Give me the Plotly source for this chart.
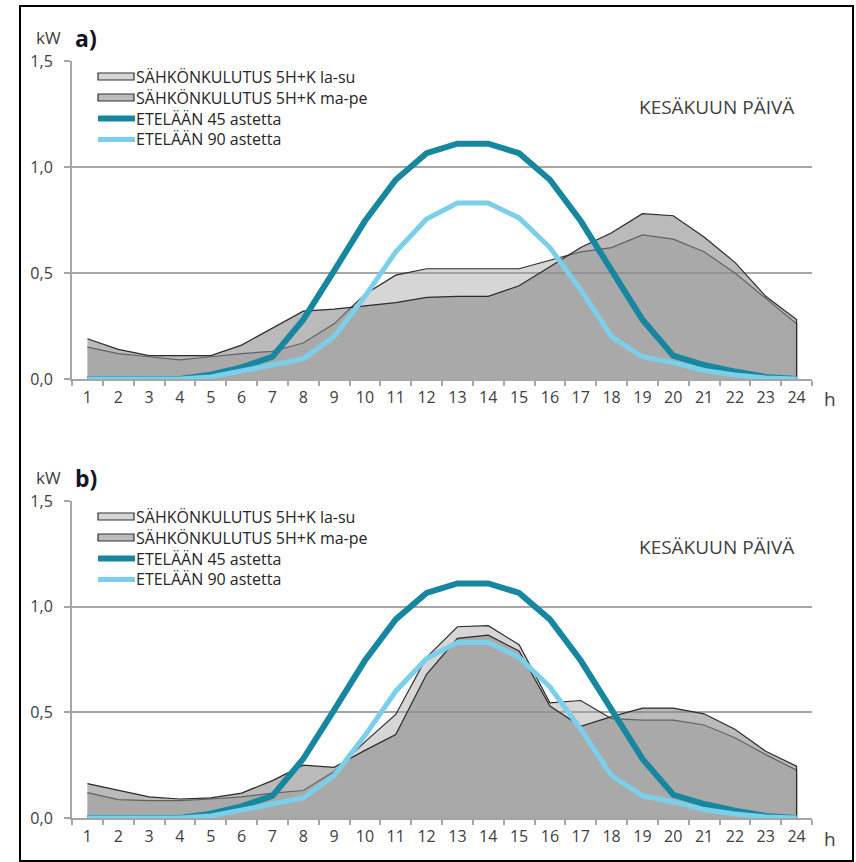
import plotly.graph_objects as go

hours = [str(h) for h in range(1, 25)]
y_ticks = [0.0, 0.5, 1.0, 1.5]

# Panel a) consumption (kW)
a_lasu = [0.15, 0.12, 0.105, 0.09, 0.105, 0.12, 0.13, 0.17, 0.26, 0.40, 0.49, 0.52,
          0.52, 0.52, 0.52, 0.56, 0.60, 0.62, 0.68, 0.66, 0.60, 0.50, 0.38, 0.26]
a_mape = [0.19, 0.14, 0.11, 0.11, 0.11, 0.16, 0.24, 0.32, 0.33, 0.345, 0.36, 0.385,
          0.39, 0.39, 0.44, 0.53, 0.62, 0.69, 0.78, 0.77, 0.67, 0.55, 0.39, 0.28]
# Panel b) consumption (kW)
b_lasu = [0.12, 0.087, 0.082, 0.082, 0.09, 0.10, 0.118, 0.13, 0.22, 0.36, 0.49, 0.76,
          0.905, 0.91, 0.82, 0.545, 0.556, 0.47, 0.463, 0.463, 0.44, 0.38, 0.30, 0.226]
b_mape = [0.163, 0.13, 0.10, 0.09, 0.095, 0.118, 0.177, 0.25, 0.24, 0.32, 0.395, 0.68,
          0.85, 0.865, 0.79, 0.53, 0.434, 0.48, 0.52, 0.52, 0.493, 0.42, 0.316, 0.245]
# Solar production (kW), same in both panels
solar45 = [0.0, 0.0, 0.0, 0.0, 0.02, 0.055, 0.105, 0.28, 0.51, 0.745, 0.94, 1.065,
           1.11, 1.11, 1.065, 0.94, 0.745, 0.51, 0.28, 0.11, 0.066, 0.035, 0.01, 0.0]
solar90 = [0.0, 0.0, 0.0, 0.0, 0.01, 0.035, 0.066, 0.095, 0.2, 0.39, 0.6, 0.755,
           0.83, 0.83, 0.76, 0.62, 0.42, 0.2, 0.105, 0.077, 0.04, 0.019, 0.005, 0.0]

names = ["SÄHKÖNKULUTUS 5H+K la-su", "SÄHKÖNKULUTUS 5H+K ma-pe",
         "ETELÄÄN 45 astetta", "ETELÄÄN 90 astetta"]

FONT = "Open Sans"
TXT = "#404040"
GRID = "#a6a6a6"
LASU_FILL = "rgba(160,160,160,0.43)"
MAPE_FILL = "rgba(137,137,137,0.585)"
C45 = "#17869f"
C90 = "#7ccfe8"

fig = go.Figure()

def add_panel(lasu, mape, xa, ya):
    xs = hours + [hours[-1]]
    fig.add_trace(go.Scatter(x=xs, y=lasu + [0], mode="lines", fill="tozeroy",
                             fillcolor=LASU_FILL, line=dict(color="#2b2b2b", width=1.2),
                             name=names[0], xaxis=xa, yaxis=ya, showlegend=False))
    fig.add_trace(go.Scatter(x=xs, y=mape + [0], mode="lines", fill="tozeroy",
                             fillcolor=MAPE_FILL, line=dict(color="#2b2b2b", width=1.2),
                             name=names[1], xaxis=xa, yaxis=ya, showlegend=False))
    fig.add_trace(go.Scatter(x=hours, y=solar45, mode="lines",
                             line=dict(color=C45, width=6), name=names[2],
                             xaxis=xa, yaxis=ya, showlegend=False))
    fig.add_trace(go.Scatter(x=hours, y=solar90, mode="lines",
                             line=dict(color=C90, width=5), name=names[3],
                             xaxis=xa, yaxis=ya, showlegend=False))

add_panel(a_lasu, a_mape, "x", "y")
add_panel(b_lasu, b_mape, "x2", "y2")

W, H = 856, 862
ML, MR, MT, MB = 72, 44, 61, 44
PW, PH = W - ML - MR, H - MT - MB

def px(xp):
    return (xp - ML) / PW

def py(yp):
    return 1 - (yp - MT) / PH

xcommon = dict(type="category", range=[-0.5, 23.5], tickson="boundaries",
               ticks="outside", ticklen=5, tickcolor=GRID, tickwidth=1.5,
               showline=True, linecolor=GRID, linewidth=2, showgrid=False,
               tickfont=dict(family=FONT, size=16, color=TXT), layer="below traces",
               ticklabelstandoff=3, fixedrange=True)
ycommon = dict(range=[0, 1.5], tickvals=y_ticks, tickformat=".1f",
               showgrid=True, gridcolor=GRID, gridwidth=2, zeroline=False,
               showline=True, linecolor=GRID, linewidth=2, ticks="outside",
               ticklen=6, tickcolor=GRID, tickwidth=1.5,
               tickfont=dict(family=FONT, size=16, color=TXT), ticklabelstandoff=8,
               layer="below traces", fixedrange=True)

annots = []
shapes = []
leg_fill = ["#d6d6d6", "#bbbbbb"]
rows = [76.5, 97.5, 118.5, 139.5]
for off, label in [(0, "a)"), (440, "b)")]:
    annots.append(dict(text="kW", x=px(48), y=py(38 + off), xref="paper", yref="paper",
                       xanchor="center", yanchor="middle", showarrow=False,
                       font=dict(family=FONT, size=17, color=TXT)))
    annots.append(dict(text="<b>" + label + "</b>", x=px(73), y=py(38 + off), xref="paper",
                       yref="paper", xanchor="left", yanchor="middle", showarrow=False,
                       font=dict(family=FONT, size=23, color="#141428")))
    annots.append(dict(text="h", x=px(830), y=py(399 + off), xref="paper", yref="paper",
                       xanchor="center", yanchor="middle", showarrow=False,
                       font=dict(family=FONT, size=19, color=TXT)))
    annots.append(dict(text="KESÄKUUN PÄIVÄ", x=px(716), y=py(107 + off), xref="paper",
                       yref="paper", xanchor="center", yanchor="middle", showarrow=False,
                       font=dict(family=FONT, size=19, color=TXT)))
    # manual legend: one multi-line text block + symbols
    annots.append(dict(text="<br>".join(names), x=px(135),
                       y=py((rows[0] + rows[-1]) / 2 + off), xref="paper", yref="paper",
                       xanchor="left", yanchor="middle", align="left", showarrow=False,
                       borderpad=0, font=dict(family=FONT, size=16, color="#262626")))
    for i in range(4):
        yc = rows[i] + off
        if i < 2:
            shapes.append(dict(type="rect", xref="paper", yref="paper",
                               x0=px(98), x1=px(134), y0=py(yc + 3.5), y1=py(yc - 3.5),
                               fillcolor=leg_fill[i], line=dict(color="#333333", width=1.2)))
        else:
            shapes.append(dict(type="line", xref="paper", yref="paper",
                               x0=px(98), x1=px(135), y0=py(yc), y1=py(yc),
                               line=dict(color=C45 if i == 2 else C90,
                                         width=6 if i == 2 else 5)))

shapes.append(dict(type="rect", xref="paper", yref="paper",
                   x0=px(20), x1=px(853), y0=py(861), y1=py(6),
                   line=dict(color="black", width=2)))

fig.update_layout(
    width=W, height=H,
    margin=dict(l=ML, r=MR, t=MT, b=MB),
    paper_bgcolor="white", plot_bgcolor="rgba(0,0,0,0)",
    separators=", ",
    showlegend=False,
    xaxis=dict(domain=[0, 1], anchor="y", **xcommon),
    yaxis=dict(domain=[py(379), 1], anchor="x", **ycommon),
    xaxis2=dict(domain=[0, 1], anchor="y2", **xcommon),
    yaxis2=dict(domain=[0, py(501)], anchor="x2", **ycommon),
    annotations=annots,
    shapes=shapes,
    hovermode=False,
)

fig.write_html("out.html")
